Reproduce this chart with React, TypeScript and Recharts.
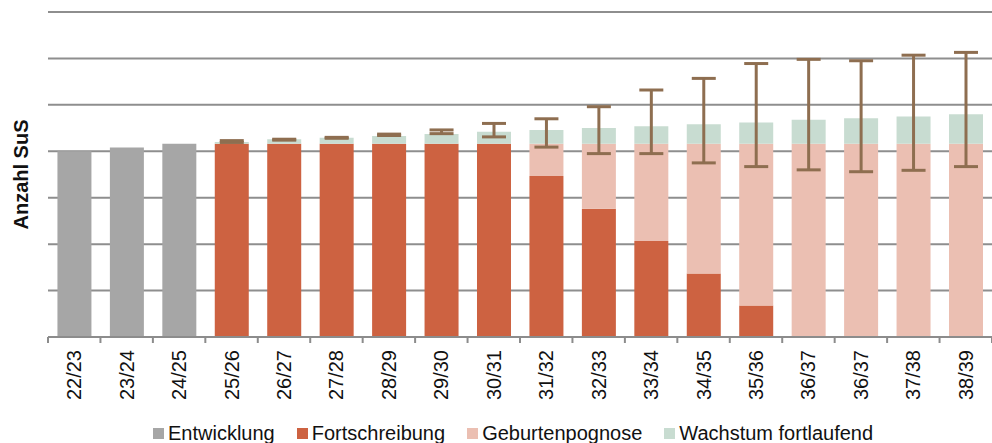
import { BarChart, Bar, XAxis, YAxis, CartesianGrid, ErrorBar } from "recharts";

const categories = [
  "22/23", "23/24", "24/25", "25/26", "26/27", "27/28", "28/29", "29/30", "30/31",
  "31/32", "32/33", "33/34", "34/35", "35/36", "36/37", "36/37", "37/38", "38/39",
];
const entwicklung = [400, 408, 416, 0, 0, 0, 0, 0, 0, 0, 0, 0, 0, 0, 0, 0, 0, 0];
const fortschreibung = [0, 0, 0, 416, 416, 416, 416, 416, 416, 347, 276, 207, 137, 68, 0, 0, 0, 0];
const geburtenprognose = [0, 0, 0, 0, 0, 0, 0, 0, 0, 69, 140, 209, 279, 348, 416, 416, 416, 416];
const wachstum = [0, 0, 0, 4, 10, 13, 17, 21, 26, 30, 34, 38, 42, 46, 52, 55, 59, 64];
// Unter- und Obergrenze der Fehlerbalken (absolut)
const errLow = [null, null, null, 419, 424, 428, 434, 438, 431, 409, 395, 395, 375, 367, 360, 356, 359, 367];
const errHigh = [null, null, null, 423, 426, 430, 437, 446, 460, 470, 496, 532, 557, 589, 598, 595, 607, 613];
const yTicks = [0, 100, 200, 300, 400, 500, 600, 700];

const legendItems = [
  { label: "Entwicklung", color: "#A6A6A6" },
  { label: "Fortschreibung", color: "#CD6241" },
  { label: "Geburtenpognose", color: "#EBBFB2" },
  { label: "Wachstum fortlaufend", color: "#C8DCD1" },
];

const data = categories.map((name, i) => {
  const top = entwicklung[i] + fortschreibung[i] + geburtenprognose[i] + wachstum[i];
  const lo = errLow[i];
  const hi = errHigh[i];
  return {
    name,
    entwicklung: entwicklung[i],
    fortschreibung: fortschreibung[i],
    geburten: geburtenprognose[i],
    wachstum: wachstum[i],
    err: lo == null || hi == null ? undefined : [top - lo, hi - top],
  };
});

const W = 992;
const H = 443;
const LEFT = 48;
const BAND = (W - LEFT) / categories.length;
const FONT = '"Liberation Sans", Arial, sans-serif';

function Tick(props: any) {
  const { x, y, payload, index } = props;
  const axisY = y - 13;
  return (
    <g>
      <line x1={x - BAND / 2} x2={x - BAND / 2} y1={axisY} y2={axisY + 6} stroke="#8c8c8c" strokeWidth={2} />
      {index === categories.length - 1 && (
        <line x1={x + BAND / 2} x2={x + BAND / 2} y1={axisY} y2={axisY + 6} stroke="#8c8c8c" strokeWidth={2} />
      )}
      <text
        x={x}
        y={y}
        transform={`rotate(-90 ${x} ${y})`}
        textAnchor="end"
        dy="0.35em"
        fontSize={20}
        fontFamily={FONT}
        fill="#111"
      >
        {payload.value}
      </text>
    </g>
  );
}

function YTitle(props: any) {
  const { viewBox } = props;
  const cx = 21;
  const cy = viewBox.y + viewBox.height / 2;
  return (
    <text
      x={cx}
      y={cy}
      transform={`rotate(-90 ${cx} ${cy})`}
      textAnchor="middle"
      dy="0.35em"
      fontSize={20}
      fontWeight="bold"
      fontFamily={FONT}
      fill="#111"
    >
      Anzahl SuS
    </text>
  );
}

export default function App() {
  return (
    <div style={{ position: "absolute", left: 0, top: 0, width: W, height: H, background: "#fff" }}>
      <BarChart
        width={W}
        height={H}
        data={data}
        margin={{ top: 12, right: 0, left: 0, bottom: 36 }}
        barCategoryGap="18%"
      >
        <CartesianGrid horizontal vertical={false} stroke="#8e8e8e" strokeWidth={2} />
        <XAxis
          dataKey="name"
          height={70}
          interval={0}
          tickLine={false}
          tickSize={6}
          tickMargin={7}
          axisLine={{ stroke: "#8c8c8c", strokeWidth: 2 }}
          tick={<Tick />}
        />
        <YAxis
          width={LEFT}
          domain={[0, 700]}
          ticks={yTicks}
          interval={0}
          allowDataOverflow
          tick={() => <g />}
          tickLine={false}
          axisLine={false}
          label={<YTitle />}
        />
        <Bar dataKey="entwicklung" stackId="a" fill="#A6A6A6" isAnimationActive={false} />
        <Bar dataKey="fortschreibung" stackId="a" fill="#CD6241" isAnimationActive={false} />
        <Bar dataKey="geburten" stackId="a" fill="#EBBFB2" isAnimationActive={false} />
        <Bar dataKey="wachstum" stackId="a" fill="#C8DCD1" isAnimationActive={false}>
          <ErrorBar dataKey="err" direction="y" width={12} strokeWidth={3} stroke="#8E6E50" />
        </Bar>
      </BarChart>
      <div
        style={{
          position: "absolute",
          left: 153,
          top: 423,
          display: "flex",
          alignItems: "center",
          gap: 22,
          fontFamily: FONT,
          fontSize: 20,
          lineHeight: "20px",
          color: "#111",
          whiteSpace: "nowrap",
        }}
      >
        {legendItems.map((it) => (
          <div key={it.label} style={{ display: "flex", alignItems: "center", gap: 4 }}>
            <span style={{ display: "inline-block", width: 11, height: 11, background: it.color }} />
            <span>{it.label}</span>
          </div>
        ))}
      </div>
    </div>
  );
}
